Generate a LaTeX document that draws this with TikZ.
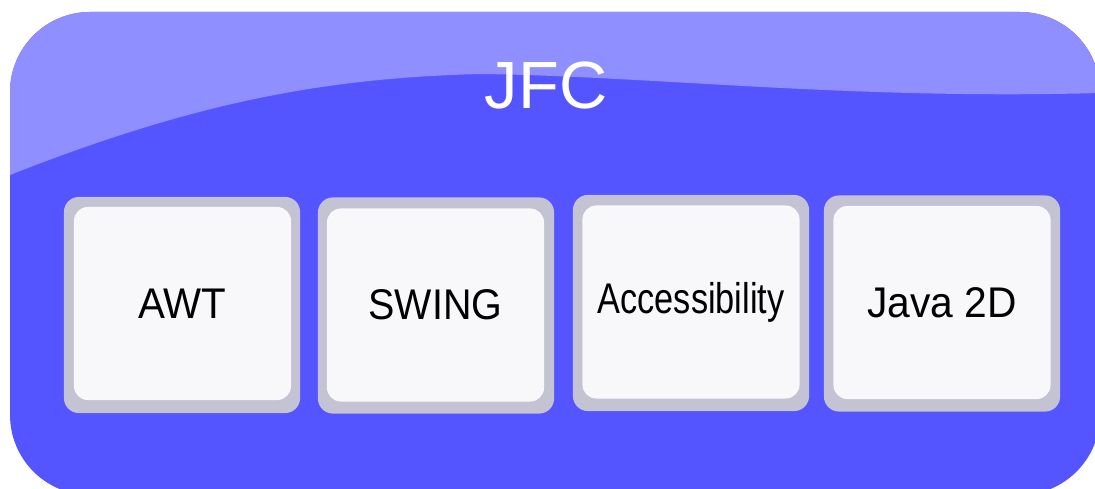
\documentclass[tikz,border=0pt]{standalone}
\usepackage{fontspec}
\setmainfont{Liberation Sans}
\usepackage{tikz}
\usetikzlibrary{positioning}

\definecolor{jfcblue}{HTML}{5555FF}
\definecolor{jfclight}{HTML}{8F8FFF}
\definecolor{framegray}{HTML}{C3C3D4}
\definecolor{panelwhite}{HTML}{F8F8FA}

\begin{document}
\begin{tikzpicture}[
    x=0.01cm, y=-0.01cm,
    frame/.style={rectangle, fill=framegray, rounded corners=0.15cm,
        minimum width=2.36cm, minimum height=2.16cm, inner sep=0pt},
    panel/.style={rectangle, fill=panelwhite, rounded corners=0.14cm,
        minimum width=2.17cm, minimum height=1.93cm, inner sep=0pt,
        font=\fontsize{12.2}{14}\selectfont},
    title/.style={text=white, font=\fontsize{19}{24}\selectfont},
]
    \useasboundingbox (0,0) rectangle (1095,488);

    % Background with the lighter wave on top
    \fill[jfcblue, rounded corners=0.8cm] (10,12) rectangle (1100,495);
    \begin{scope}
        \clip[rounded corners=0.8cm] (10,12) rectangle (1100,495);
        \fill[jfclight] (0,0) -- (0,178) -- (10,175)
            .. controls (200,100) and (330,78) .. (480,74)
            .. controls (650,76) and (850,100) .. (1100,93)
            -- (1100,0) -- cycle;
    \end{scope}

    \node[title] (jfc) at (546,86) {JFC};

    % Frames
    \node[frame] (awtframe) at (182,305) {};
    \node[frame] (swingframe) at (436,305.5) {};
    \node[frame] (accframe) at (691,303) {};
    \node[frame] (j2dframe) at (942,303.5) {};

    % Panels
    \node[panel] (awt) at (182.5,303.5) {\scalebox{0.94}[1]{AWT}};
    \node[panel] (swing) at (435.5,305) {\scalebox{0.92}[1]{SWING}};
    \node[panel] (acc) at (691,302) {\scalebox{0.8}[1]{Accessibility}};
    \node[panel] (j2d) at (942,302.5) {\scalebox{0.95}[1]{Java 2D}};
\end{tikzpicture}
\end{document}
